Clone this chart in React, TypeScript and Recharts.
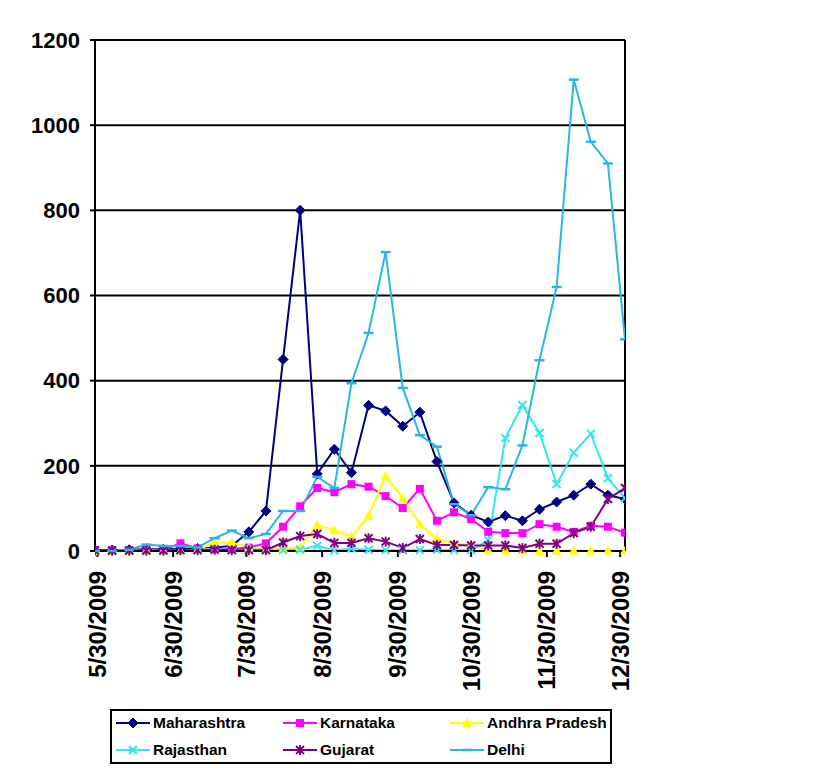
import React from "react";
import {
  LineChart,
  Line,
  XAxis,
  YAxis,
  CartesianGrid,
  ReferenceLine,
  Legend,
} from "recharts";

// weekly report dates
const dates = [
  "5/29/2009", "6/5/2009", "6/12/2009", "6/19/2009", "6/26/2009", "7/3/2009",
  "7/10/2009", "7/17/2009", "7/24/2009", "7/31/2009", "8/7/2009", "8/14/2009",
  "8/21/2009", "8/28/2009", "9/4/2009", "9/11/2009", "9/18/2009", "9/25/2009",
  "10/2/2009", "10/9/2009", "10/16/2009", "10/23/2009", "10/30/2009", "11/6/2009",
  "11/13/2009", "11/20/2009", "11/27/2009", "12/4/2009", "12/11/2009", "12/18/2009",
  "12/25/2009", "1/1/2010",
];

const tickDates = [
  "5/30/2009", "6/30/2009", "7/30/2009", "8/30/2009",
  "9/30/2009", "10/30/2009", "11/30/2009", "12/30/2009",
];

const yTicks = [0, 200, 400, 600, 800, 1000, 1200];

const maharashtra = [2, 2, 3, 4, 4, 5, 6, 8, 12, 45, 94, 450, 800, 181, 239, 184, 342, 329, 293, 326, 210, 113, 84, 68, 83, 71, 98, 115, 131, 157, 131, 122];
const karnataka = [2, 2, 1, 3, 3, 18, 6, 5, 5, 8, 18, 57, 105, 148, 138, 157, 151, 129, 101, 146, 71, 91, 75, 45, 42, 42, 63, 57, 45, 59, 57, 43];
const andhraPradesh = [0, 0, 0, 1, 1, 1, 3, 20, 20, 8, 3, 6, 8, 61, 49, 34, 83, 177, 124, 63, 28, 19, 14, 2, 1, 1, 0, 1, 1, 1, 1, 1];
const rajasthan = [0, 0, 1, 2, 2, 2, 3, 5, 2, 3, 3, 2, 3, 12, 1, 6, 3, 2, 2, 2, 3, 2, 2, 25, 265, 343, 277, 157, 231, 275, 171, 124];
const gujarat = [1, 1, 1, 1, 1, 2, 2, 3, 2, 2, 2, 20, 35, 40, 19, 19, 30, 22, 7, 28, 14, 14, 13, 13, 13, 7, 17, 17, 42, 57, 122, 148];
const delhi = [0, 0, 3, 15, 12, 12, 8, 30, 48, 30, 40, 94, 94, 174, 148, 394, 512, 702, 383, 272, 245, 110, 84, 150, 145, 248, 448, 620, 1107, 961, 910, 497];

type Shape = "diamond" | "square" | "triangle" | "x" | "star" | "dash";

const series: { key: string; name: string; color: string; shape: Shape; values: number[] }[] = [
  { key: "mh", name: "Maharashtra", color: "#000080", shape: "diamond", values: maharashtra },
  { key: "ka", name: "Karnataka", color: "#FF00FF", shape: "square", values: karnataka },
  { key: "ap", name: "Andhra Pradesh", color: "#FFFF00", shape: "triangle", values: andhraPradesh },
  { key: "rj", name: "Rajasthan", color: "#33E6F0", shape: "x", values: rajasthan },
  { key: "gj", name: "Gujarat", color: "#800080", shape: "star", values: gujarat },
  { key: "dl", name: "Delhi", color: "#29B6E3", shape: "dash", values: delhi },
];

const toDay = (s: string) => {
  const [m, d, y] = s.split("/").map(Number);
  return Date.UTC(y, m - 1, d) / 86400000;
};

const data = dates.map((d, i) => {
  const row: Record<string, number> = { t: toDay(d) };
  series.forEach((s) => (row[s.key] = s.values[i]));
  return row;
});

const tickDays = tickDates.map(toDay);
const labelByDay: Record<number, string> = {};
tickDates.forEach((d) => (labelByDay[toDay(d)] = d));

const FONT = "'Liberation Sans', Arial, sans-serif";

function Marker({ shape, color, cx, cy }: { shape: Shape; color: string; cx: number; cy: number }) {
  switch (shape) {
    case "diamond":
      return <polygon points={`${cx},${cy - 5} ${cx + 5},${cy} ${cx},${cy + 5} ${cx - 5},${cy}`} fill={color} stroke={color} />;
    case "square":
      return <rect x={cx - 4} y={cy - 4} width={8} height={8} fill={color} />;
    case "triangle":
      return <polygon points={`${cx},${cy - 5} ${cx + 5},${cy + 4} ${cx - 5},${cy + 4}`} fill={color} />;
    case "x":
      return (
        <g stroke={color} strokeWidth={2}>
          <line x1={cx - 4} y1={cy - 4} x2={cx + 4} y2={cy + 4} />
          <line x1={cx - 4} y1={cy + 4} x2={cx + 4} y2={cy - 4} />
        </g>
      );
    case "star":
      return (
        <g stroke={color} strokeWidth={2}>
          <line x1={cx - 4} y1={cy - 4} x2={cx + 4} y2={cy + 4} />
          <line x1={cx - 4} y1={cy + 4} x2={cx + 4} y2={cy - 4} />
          <line x1={cx} y1={cy - 5} x2={cx} y2={cy + 5} />
        </g>
      );
    default:
      return <line x1={cx - 5} y1={cy} x2={cx + 5} y2={cy} stroke={color} strokeWidth={2.5} />;
  }
}

const makeDot = (shape: Shape, color: string) => (props: any) => {
  const { cx, cy, index } = props;
  if (cx == null || cy == null) return <g key={`e-${index}`} />;
  return (
    <g key={`d-${shape}-${index}`}>
      <Marker shape={shape} color={color} cx={cx} cy={cy} />
    </g>
  );
};

function DateTick({ x, y, payload }: any) {
  return (
    <g transform={`translate(${x},${y + 14})`}>
      <text
        transform="rotate(-90)"
        textAnchor="end"
        dy="0.36em"
        fontFamily={FONT}
        fontWeight="bold"
        fontSize={24}
        fill="#000"
      >
        {labelByDay[payload.value]}
      </text>
    </g>
  );
}

const legendCols = [6, 173, 340];

function LegendBox() {
  return (
    <div
      style={{
        position: "relative",
        width: 502,
        height: 55,
        boxSizing: "border-box",
        border: "2px solid #000",
        background: "#fff",
        fontFamily: FONT,
        fontWeight: "bold",
        fontSize: 15.5,
      }}
    >
      {series.map((s, i) => (
        <div
          key={s.key}
          style={{
            position: "absolute",
            left: legendCols[i % 3] - 2,
            top: (i < 3 ? 14 : 41) - 2 - 9,
            height: 18,
            display: "flex",
            alignItems: "center",
            whiteSpace: "nowrap",
          }}
        >
          <svg width={34} height={18}>
            <line x1={0} y1={9} x2={34} y2={9} stroke={s.color} strokeWidth={2} />
            <Marker shape={s.shape} color={s.color} cx={17} cy={9} />
          </svg>
          <span style={{ marginLeft: 3 }}>{s.name}</span>
        </div>
      ))}
    </div>
  );
}

export default function App() {
  return (
    <div style={{ position: "absolute", left: 0, top: 0, width: 837, height: 777, background: "#fff" }}>
      <LineChart width={837} height={777} data={data} margin={{ top: 40, right: 212, left: 0, bottom: 13 }}>
        <CartesianGrid vertical={false} stroke="#000" strokeWidth={2} />
        <XAxis
          dataKey="t"
          type="number"
          domain={[toDay(dates[0]), toDay(dates[dates.length - 1])]}
          ticks={tickDays}
          interval={0}
          tick={<DateTick />}
          tickSize={6}
          tickMargin={0}
          height={158}
          axisLine={{ stroke: "#000", strokeWidth: 2 }}
          tickLine={{ stroke: "#000", strokeWidth: 2 }}
          allowDataOverflow
        />
        <YAxis
          domain={[0, 1200]}
          ticks={yTicks}
          interval={0}
          width={95}
          tickSize={5}
          tickMargin={10}
          axisLine={{ stroke: "#000", strokeWidth: 2 }}
          tickLine={{ stroke: "#000", strokeWidth: 2 }}
          tick={{ fontFamily: FONT, fontWeight: "bold", fontSize: 22, fill: "#000" }}
        />
        <ReferenceLine x={toDay(dates[dates.length - 1])} stroke="#000" strokeWidth={2} />
        <Legend
          verticalAlign="bottom"
          content={() => <LegendBox />}
          wrapperStyle={{ left: 110, width: 502, bottom: 13 }}
        />
        {series.map((s) => (
          <Line
            key={s.key}
            type="linear"
            dataKey={s.key}
            name={s.name}
            stroke={s.color}
            strokeWidth={2}
            dot={makeDot(s.shape, s.color)}
            activeDot={false}
            isAnimationActive={false}
          />
        ))}
      </LineChart>
    </div>
  );
}
